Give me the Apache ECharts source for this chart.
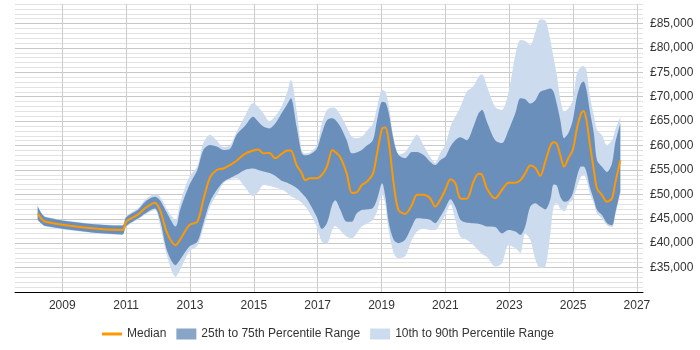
<!DOCTYPE html>
<html>
<head>
<meta charset="utf-8">
<script src="https://cdn.jsdelivr.net/npm/echarts@6/dist/echarts.min.js"></script>
<style>
    html, body {margin: 0; padding: 0; background: #fff;}
    #chart {width: 700px; height: 350px;}
</style>
</head>
<body>
<div id="chart"></div>
<script>
// decimal years of each sample
var years = [2008.23, 2008.48, 2010.88, 2011.00, 2011.38, 2011.60, 2011.90, 2012.06, 2012.29, 2012.55,
    2012.69, 2012.98, 2013.23, 2013.42, 2013.63, 2013.84, 2014.05, 2014.25, 2014.46, 2014.72,
    2014.98, 2015.14, 2015.30, 2015.49, 2015.67, 2015.87, 2016.05, 2016.16, 2016.34, 2016.50,
    2016.61, 2016.76, 2016.97, 2017.13, 2017.29, 2017.46, 2017.55, 2017.70, 2017.91, 2018.07,
    2018.22, 2018.38, 2018.54, 2018.73, 2018.86, 2019.02, 2019.12, 2019.22, 2019.38, 2019.53,
    2019.74, 2019.95, 2020.11, 2020.31, 2020.52, 2020.68, 2020.84, 2021.00, 2021.16, 2021.31,
    2021.47, 2021.67, 2021.88, 2022.04, 2022.15, 2022.30, 2022.56, 2022.77, 2022.98, 2023.19,
    2023.35, 2023.50, 2023.66, 2023.82, 2023.97, 2024.13, 2024.29, 2024.39, 2024.49, 2024.60,
    2024.72, 2024.85, 2024.99, 2025.12, 2025.25, 2025.33, 2025.42, 2025.52, 2025.65, 2025.75,
    2025.90, 2026.06, 2026.22, 2026.32, 2026.48];

var median = [46100, 44400, 42700, 44400, 45900, 47200, 48300, 46800, 42000, 39600,
    40700, 43700, 44400, 48900, 53500, 55000, 55300, 56000, 56900, 58300,
    59000, 59200, 58400, 58500, 57400, 58300, 59000, 59000, 56000, 54400,
    52900, 53300, 53300, 54000, 55700, 59100, 58700, 57700, 54300, 50300,
    50400, 51900, 52600, 54200, 58400, 63500, 63700, 61100, 52300, 46800,
    46000, 47800, 49900, 49900, 49200, 47500, 48900, 51000, 53100, 52300,
    49200, 49100, 52600, 54200, 54000, 51200, 49200, 50900, 52400, 52400,
    52900, 54300, 55900, 55400, 53800, 56700, 60000, 60700, 60400, 58000,
    55700, 57400, 59100, 63500, 66600, 67100, 65200, 60500, 55000, 51200,
    49900, 48500, 49200, 52300, 57000];

var p25 = [44800, 43500, 41800, 43500, 45100, 46100, 47100, 44800, 38300, 35500,
    36600, 39300, 40300, 44100, 48500, 50900, 52600, 53300, 54000, 55000,
    55300, 55000, 54700, 54400, 53800, 52800, 52400, 52000, 51300, 50300,
    49500, 48000, 45400, 42900, 44100, 48000, 48800, 47000, 44400, 44400,
    46100, 46800, 46900, 47200, 49000, 52300, 49500, 44400, 40700, 40000,
    40700, 43400, 45100, 45000, 44800, 44100, 45400, 47200, 49000, 47500,
    44800, 44200, 44100, 44000, 43800, 43400, 43300, 42000, 42700, 42400,
    41700, 43400, 47500, 48200, 47500, 46900, 49000, 52000, 51800, 49500,
    48500, 48700, 50200, 53600, 55700, 55700, 54600, 51600, 48900, 46800,
    45800, 44100, 43700, 46100, 50600];

var p75 = [47600, 45300, 43600, 45300, 46900, 48500, 49500, 48800, 46100, 43400,
    46800, 51900, 55000, 59100, 60100, 59800, 59100, 59300, 62200, 64000,
    65900, 64900, 63900, 63500, 64500, 66600, 68500, 69700, 63900, 58500,
    58000, 58200, 59300, 62500, 65200, 65600, 65300, 64000, 61100, 58400,
    58600, 59100, 60000, 61100, 65200, 69000, 68800, 66900, 61100, 58100,
    57400, 58700, 58700, 58100, 56700, 56000, 57000, 57700, 59800, 61100,
    61700, 61100, 63900, 66600, 67300, 64900, 61100, 60500, 63200, 66600,
    69700, 69500, 68600, 69300, 71000, 71400, 71700, 71000, 68500, 65200,
    61500, 62500, 65200, 70000, 72700, 73100, 71400, 67300, 62500, 57000,
    55700, 54600, 56400, 60500, 64500];

var p10 = [44700, 43400, 41700, 43300, 44900, 45900, 46800, 43700, 37200, 33100,
    34500, 38300, 39500, 43100, 47500, 49900, 52300, 53100, 53300, 51500,
    49600, 50500, 51900, 51700, 51400, 51000, 50300, 49600, 49000, 48300,
    47500, 46100, 43400, 40300, 40000, 42800, 43500, 42700, 41300, 41000,
    42000, 43400, 44000, 44800, 46500, 49900, 48000, 42700, 38000, 36900,
    37300, 40700, 42400, 43000, 42700, 42700, 44000, 45800, 48000, 44800,
    41300, 40700, 39600, 38500, 37800, 37200, 35200, 35900, 39600, 39000,
    38000, 42000, 40700, 36600, 34900, 35200, 42000, 47500, 48200, 47100,
    46500, 48100, 48900, 51500, 53600, 54000, 52900, 50300, 48200, 46100,
    45100, 43700, 43300, 45600, 50200];

var p90 = [47700, 45400, 43700, 45500, 47200, 48900, 50000, 49500, 46800, 44800,
    48200, 53600, 55700, 60500, 62200, 61000, 59700, 60000, 62800, 66000,
    68700, 67900, 66600, 65000, 66000, 68000, 71000, 73500, 67300, 59000,
    58400, 58600, 60000, 64500, 67300, 67800, 67700, 66400, 63800, 61800,
    61500, 61800, 63000, 64500, 67900, 71400, 71000, 68500, 61600, 58200,
    58700, 60800, 62200, 60100, 57700, 56500, 58500, 60100, 63900, 65900,
    67900, 71000, 72200, 74100, 74600, 72200, 67900, 67300, 71000, 78500,
    81600, 81400, 80600, 83300, 85800, 85600, 81500, 78000, 74500, 69500,
    67000, 67600, 69300, 74800, 76100, 76300, 75400, 70300, 66200, 63200,
    62200, 60100, 61100, 63200, 65900];

var tickYears = [2009, 2011, 2013, 2015, 2017, 2019, 2021, 2023, 2025, 2027];

// value first, year second: encode maps them back, and stacking then runs on the value
function pairs(values) {
    var out = [];
    for (var i = 0; i < years.length; i++) {
        out.push([values[i], years[i]]);
    }
    return out;
}

function gap(top, base) {
    var out = [];
    for (var i = 0; i < years.length; i++) {
        out.push([top[i] - base[i], years[i]]);
    }
    return out;
}

function money(v) {
    var s = String(v);
    return '£' + s.replace(/\B(?=(\d{3})+(?!\d))/g, ',');
}

var dom = document.getElementById("chart");
var myChart = echarts.init(dom);

var outerName = '10th to 90th Percentile Range';
var innerName = '25th to 75th Percentile Range';

function bandSeries(name, stack, data, color) {
    var s = {
        name: name,
        type: 'line',
        stack: stack,
        data: data,
        encode: {x: 1, y: 0},
        symbol: 'none',
        smooth: 0.3,
        lineStyle: {opacity: 0, width: 0}
    };
    if (color) {
        s.itemStyle = {color: color};
        s.areaStyle = {color: color, opacity: 1};
    }
    return s;
}

var option = {
    animation: false,
    textStyle: {fontFamily: 'Liberation Sans, Arial, sans-serif'},
    grid: {left: 15, right: 57, top: 4, bottom: 58},
    legend: {
        left: 97,
        top: 323,
        itemWidth: 20,
        itemHeight: 11,
        itemGap: 10,
        textStyle: {fontSize: 12, color: '#333'},
        data: [
            {name: 'Median', icon: 'path://M0,0L20,0L20,3L0,3Z', itemStyle: {color: '#ff9900'}},
            {name: innerName, icon: 'rect', itemStyle: {color: '#87a5c7', opacity: 1}},
            {name: outerName, icon: 'rect', itemStyle: {color: '#ccdcee', opacity: 1}}
        ]
    },
    xAxis: {
        type: 'value',
        min: 2007.52,
        max: 2027.19,
        axisLine: {lineStyle: {color: '#000', width: 1}},
        axisTick: {show: false, customValues: tickYears},
        axisLabel: {
            customValues: tickYears,
            formatter: function (v) { return String(Math.round(v)); },
            color: '#333',
            fontSize: 12,
            margin: 8
        },
        splitLine: {show: true, lineStyle: {color: '#cccccc', width: 1}}
    },
    yAxis: {
        type: 'value',
        position: 'right',
        min: 30000,
        max: 89000,
        interval: 1000,
        axisLine: {show: false},
        axisTick: {show: false},
        axisLabel: {
            color: '#333',
            fontSize: 12,
            margin: 7,
            formatter: function (v) {
                if (v % 5000 === 0 && v >= 35000 && v <= 85000) return money(v);
                return '';
            }
        },
        splitLine: {
            show: true,
            lineStyle: {color: ['#c8c8c8', '#e2e2e2', '#e2e2e2', '#e2e2e2', '#e2e2e2'], width: 1}
        }
    },
    series: [
        bandSeries('p10', 'outer', pairs(p10)),
        bandSeries(outerName, 'outer', gap(p90, p10), '#ccdcee'),
        bandSeries('p25', 'inner', pairs(p25)),
        bandSeries(innerName, 'inner', gap(p75, p25), '#6b8fbb'),
        {
            name: 'Median',
            type: 'line',
            data: pairs(median),
            encode: {x: 1, y: 0},
            symbol: 'none',
            smooth: 0.3,
            itemStyle: {color: '#ff9900'},
            lineStyle: {color: '#ff9900', width: 2}
        }
    ]
};

myChart.setOption(option);
</script>
</body>
</html>
